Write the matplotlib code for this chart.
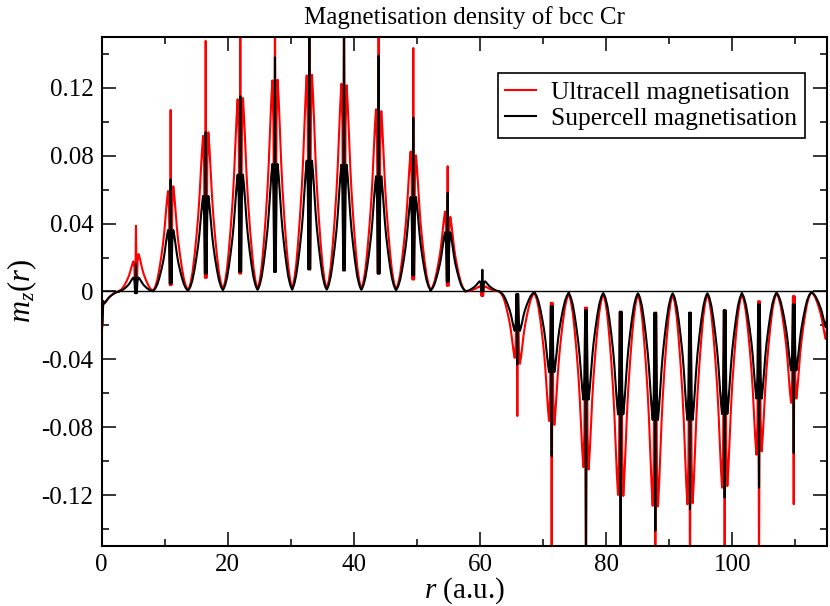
import matplotlib
matplotlib.use('Agg')
import matplotlib.pyplot as plt
from matplotlib.ticker import MultipleLocator, FuncFormatter

plt.rcParams['font.family'] = 'Liberation Serif'
plt.rcParams['mathtext.fontset'] = 'custom'
plt.rcParams['mathtext.rm'] = 'Liberation Serif'
plt.rcParams['mathtext.it'] = 'Liberation Serif:italic'
plt.rcParams['axes.unicode_minus'] = False

# atom positions along the line (a.u.)
centres = [0.00, 5.44, 10.94, 16.50, 21.99, 27.49, 32.94, 38.44, 43.93, 49.43, 54.88,
           60.38, 65.93, 71.38, 76.82, 82.32, 87.82, 93.32, 98.82, 104.27, 109.77, 115.27]

# ultracell (red): lobe heights either side of each atom, spike away from / towards zero
ultra_lobe_left = [-0.007, 0.0177, 0.0592, 0.0917, 0.1133, 0.1244, 0.1273, 0.1224, 0.1074, 0.0825, 0.0471,
                   0.003, -0.0391, -0.0763, -0.1035, -0.1199, -0.1263, -0.1254, -0.1156, -0.0962, -0.0656, -0.028]
ultra_lobe_right = [-0.007, 0.0220, 0.0620, 0.0938, 0.1140, 0.1248, 0.1277, 0.1215, 0.1063, 0.0802, 0.0440,
                    0.003, -0.0426, -0.0786, -0.1049, -0.1205, -0.1267, -0.1248, -0.1147, -0.0942, -0.0631, -0.028]
ultra_spike_out = [-0.024, 0.0387, 0.107, 0.1477, 0.17, 0.18, 0.19, 0.19, 0.17, 0.1435, 0.0738,
                   0.005, -0.0734, -0.18, -0.18, -0.18, -0.19, -0.19, -0.18, -0.17, -0.1254, -0.04]
ultra_spike_in = [-0.02, -0.001, 0.0037, 0.008, 0.0105, 0.0115, 0.013, 0.0124, 0.0105, 0.007, 0.0033,
                  -0.0027, -0.0018, -0.0066, -0.0095, -0.0119, -0.0125, -0.0125, -0.011, -0.0057, -0.0027, -0.005]

# supercell (black)
super_lobe = [-0.007, 0.0082, 0.0362, 0.0563, 0.0689, 0.0751, 0.0771, 0.0747, 0.0679, 0.0557, 0.0349,
              0.006, -0.0232, -0.0475, -0.0637, -0.0724, -0.0757, -0.0757, -0.0722, -0.0631, -0.0465, -0.021]
super_spike_out = [-0.022, 0.0164, 0.066, 0.094, 0.115, 0.138, 0.17, 0.165, 0.139, 0.1024, 0.0582,
                   0.0128, -0.043, -0.0971, -0.17, -0.17, -0.141, -0.1283, -0.1215, -0.1156, -0.0952, -0.03]
super_spike_in = [-0.019, -0.001, 0.0047, 0.0105, 0.0115, 0.0115, 0.013, 0.0124, 0.0105, 0.0095, 0.0057,
                  0.0, -0.0014, -0.0086, -0.011, -0.0119, -0.0125, -0.0125, -0.011, -0.0076, -0.0076, -0.005]

# shape of one atomic peak:
# distance from the atom (a.u.) and fraction of the lobe height
profile_offset = [0.42, 0.60, 0.80, 1.00, 1.20, 1.50, 1.80, 2.10, 2.40, 2.60, 2.74]
profile_frac = [1.0, 0.90, 0.75, 0.60, 0.48, 0.34, 0.22, 0.12, 0.055, 0.028, 0.015]


def trace(lobe_l, lobe_r, spike_out, spike_in):
    r, m = [], []
    for c, hl, hr, so, si in zip(centres, lobe_l, lobe_r, spike_out, spike_in):
        for d, f in zip(profile_offset[::-1], profile_frac[::-1]):
            r.append(c - d)
            m.append(hl * f)
        r += [c - 0.25, c - 0.12, c, c + 0.12, c + 0.25]
        m += [0.8 * hl, si, so, si, 0.8 * hr]
        for d, f in zip(profile_offset, profile_frac):
            r.append(c + d)
            m.append(hr * f)
    return r, m


def main():
    fig = plt.figure(figsize=(8.3, 6.06), dpi=100)
    ax = fig.add_axes([0.1225, 0.099, 0.996 - 0.1225, 0.939 - 0.099])

    ax.axhline(0, color='black', lw=1.0, zorder=1)

    r_u, m_u = trace(ultra_lobe_left, ultra_lobe_right, ultra_spike_out, ultra_spike_in)
    r_s, m_s = trace(super_lobe, super_lobe, super_spike_out, super_spike_in)
    ax.plot(r_u, m_u, color='red', lw=1.5, label='Ultracell magnetisation', zorder=2)
    ax.plot(r_s, m_s, color='black', lw=1.5, label='Supercell magnetisation', zorder=3)

    ax.set_xlim(0, 115)
    ax.set_ylim(-0.15, 0.15)
    ax.xaxis.set_major_locator(MultipleLocator(20))
    ax.xaxis.set_minor_locator(MultipleLocator(10))
    ax.yaxis.set_major_locator(MultipleLocator(0.04))
    ax.yaxis.set_minor_locator(MultipleLocator(0.02))
    ax.yaxis.set_major_formatter(FuncFormatter(lambda v, p: '0' if abs(v) < 1e-9 else f'{v:.2f}'))
    ax.tick_params(which='both', direction='in', top=True, right=True, width=1.1, labelsize=18)
    ax.tick_params(which='major', length=10, pad=6)
    ax.tick_params(which='minor', length=5)
    for s in ax.spines.values():
        s.set_linewidth(1.5)

    ax.set_xlabel(r'$r$ (a.u.)', fontsize=21, labelpad=-1)
    ax.set_ylabel(r'$m_z(r)$', fontsize=22, labelpad=2)
    ax.set_title('Magnetisation density of bcc Cr', fontsize=18, pad=9)

    leg = ax.legend(loc='upper right', bbox_to_anchor=(0.970, 0.929), borderaxespad=0,
                    fontsize=18.4, fancybox=False, framealpha=1, edgecolor='black',
                    handlelength=1.2, handletextpad=0.6, borderpad=0.3, labelspacing=0.15)
    leg.get_frame().set_linewidth(1.2)

    fig.savefig('out.png', dpi=100)


if __name__ == '__main__':
    main()
